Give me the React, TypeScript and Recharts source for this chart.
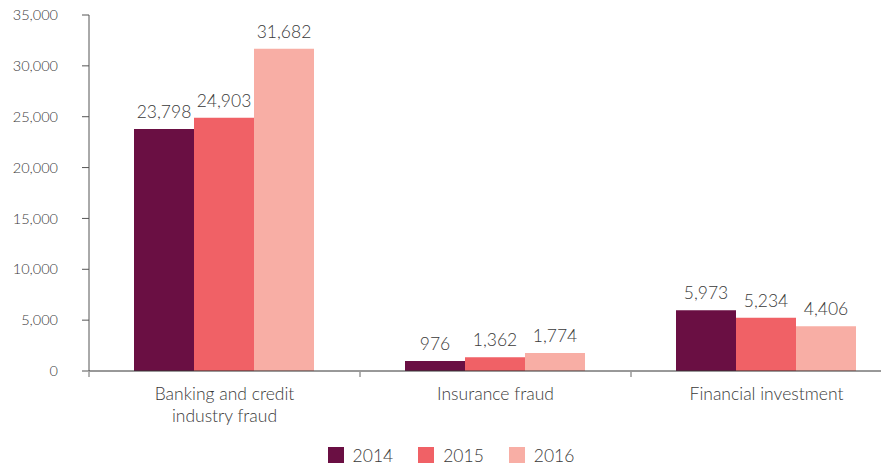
import React from 'react'
import { BarChart, Bar, XAxis, YAxis, LabelList, Legend } from 'recharts'

const categories = ['Banking and credit\nindustry fraud', 'Insurance fraud', 'Financial investment']
const years = ['2014', '2015', '2016']
const values2014 = [23798, 976, 5973]
const values2015 = [24903, 1362, 5234]
const values2016 = [31682, 1774, 4406]
const yTicks = [0, 5000, 10000, 15000, 20000, 25000, 30000, 35000]
const colors = ['#6a0f43', '#f06166', '#f8aea5']

const data = categories.map((name, i) => ({
  name,
  '2014': values2014[i],
  '2015': values2015[i],
  '2016': values2016[i],
}))

const FONT = 'Lato, "Open Sans", sans-serif'
const TEXT = '#3a3a3a'
const CHART_W = 910
const CHART_H = 465
const Y_W = 89
const RIGHT = 8
const BAND = (CHART_W - Y_W - RIGHT) / categories.length

const fmt = (v: any) => Number(v).toLocaleString('en-US')

// category label centred in the band, small tick mark on the band's left edge
const CategoryTick = (props: any) => {
  const { x, y, payload } = props
  const lines = String(payload.value).split('\n')
  const edge = x - BAND / 2
  return (
    <g>
      <line x1={edge} y1={y + 1} x2={edge} y2={y + 6} stroke="#666" strokeWidth={1} />
      <text x={x} y={y + 29} textAnchor="middle" fill={TEXT} fontSize={17.5} fontFamily={FONT} fontWeight={300}>
        {lines.map((l, i) => (
          <tspan key={i} x={x} dy={i === 0 ? 0 : 22}>{l}</tspan>
        ))}
      </text>
    </g>
  )
}

const LegendContent = () => (
  <div style={{ display: 'flex', justifyContent: 'center', gap: 25, height: 20, alignItems: 'center', fontFamily: FONT, fontSize: 17.5, color: TEXT, fontWeight: 300 }}>
    {years.map((y, i) => (
      <div key={y} style={{ display: 'flex', alignItems: 'center' }}>
        <span style={{ display: 'inline-block', width: 16, height: 16, background: colors[i], marginRight: 9 }} />
        <span>{y}</span>
      </div>
    ))}
  </div>
)

export default function App() {
  return (
    <div style={{ position: 'fixed', left: 0, top: 0, width: 881, height: 465, overflow: 'hidden', background: '#fff' }}>
      <BarChart
        width={CHART_W}
        height={CHART_H}
        data={data}
        margin={{ top: 15, right: RIGHT, left: 0, bottom: 0 }}
        barCategoryGap={45}
        barGap={0}
      >
        <YAxis
          width={Y_W}
          domain={[0, 35000]}
          ticks={yTicks}
          tickFormatter={fmt}
          axisLine={{ stroke: '#555' }}
          tickLine={{ stroke: '#555' }}
          tickSize={7}
          tickMargin={24}
          tick={{ fill: TEXT, fontSize: 14.5, fontFamily: FONT, fontWeight: 300 }}
        />
        <XAxis
          dataKey="name"
          height={74}
          axisLine={{ stroke: '#333' }}
          tickLine={false}
          tickSize={0}
          tickMargin={0}
          interval={0}
          tick={<CategoryTick />}
        />
        <Legend verticalAlign="bottom" content={<LegendContent />} />
        {years.map((y, i) => (
          <Bar key={y} dataKey={y} fill={colors[i]} isAnimationActive={false}>
            <LabelList
              dataKey={y}
              position="top"
              offset={11}
              formatter={fmt}
              fill={TEXT}
              fontSize={17.5}
              fontFamily={FONT}
              fontWeight={300}
            />
          </Bar>
        ))}
      </BarChart>
    </div>
  )
}
